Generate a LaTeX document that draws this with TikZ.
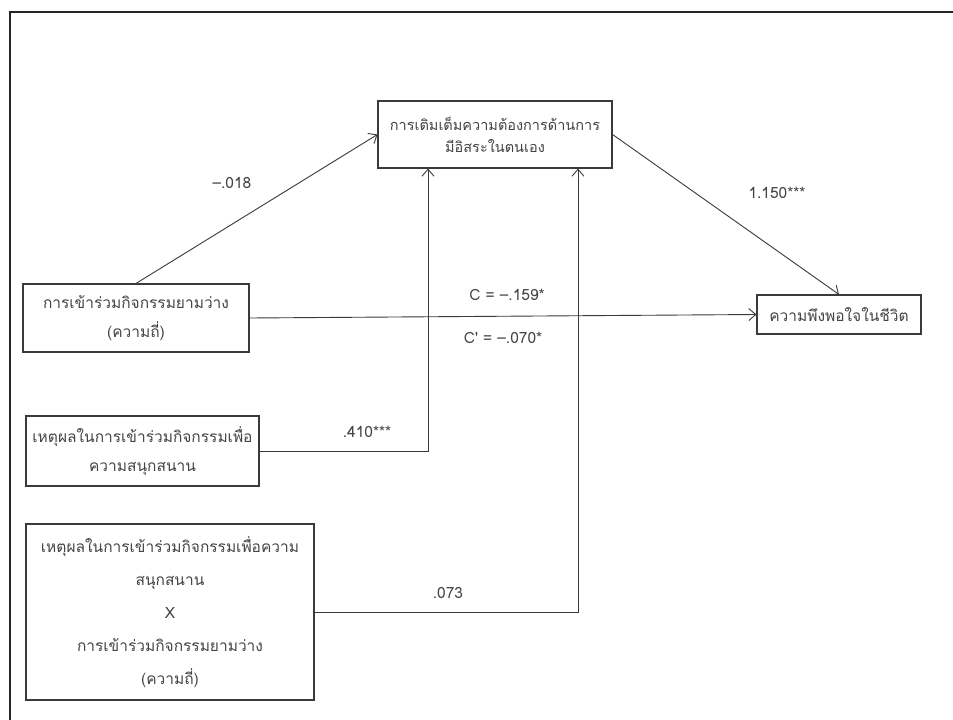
\documentclass[tikz,border=0pt]{standalone}
\usepackage{fontspec}
\newfontfamily\thaifont[Script=Thai]{Loma}
\usetikzlibrary{arrows.meta}
\definecolor{ink}{HTML}{3A3A3A}
\definecolor{txt}{HTML}{444444}
\tikzset{
  box/.style={draw=ink, line width=1.1pt, fill=white, inner sep=2pt, align=center, text=txt,
    font=\thaifont\fontsize{15.5}{29}\selectfont},
  link/.style={draw=ink, line width=0.9pt, -{Straight Barb[length=7pt,width=12pt]}},
  lab/.style={text=txt, font=\thaifont\fontsize{15.5}{17}\selectfont, inner sep=0pt}
}
\begin{document}
\begin{tikzpicture}[x=1pt,y=-1pt]
\useasboundingbox (0,0) rectangle (953,720);
\fill[white] (0,0) rectangle (953,720);
% outer frame
\draw[black!85, line width=2.2pt] (10,720) -- (10,12) -- (953,12);
% nodes
\node[box, minimum width=234pt, minimum height=67pt, font=\thaifont\fontsize{14.5}{22}\selectfont] (M) at (495,134.5)
  {การเติมเต็มความต้องการด้านการ\\มีอิสระในตนเอง};
\node[box, minimum width=226pt, minimum height=68pt] (X) at (136,318)
  {การเข้าร่วมกิจกรรมยามว่าง\\(ความถี่)};
\node[box, minimum width=164pt, minimum height=39pt] (Y) at (839,314.5)
  {ความพึงพอใจในชีวิต};
\node[box, minimum width=233pt, minimum height=70pt] (W) at (142.5,451)
  {เหตุผลในการเข้าร่วมกิจกรรมเพื่อ\\ความสนุกสนาน};
\node[box, minimum width=288pt, minimum height=176pt, font=\thaifont\fontsize{15.5}{33}\selectfont] (XW) at (170,612)
  {เหตุผลในการเข้าร่วมกิจกรรมเพื่อความ\\สนุกสนาน\\X\\การเข้าร่วมกิจกรรมยามว่าง\\(ความถี่)};
% helper coordinates on the bottom edge of M
\coordinate (Mw) at ([xshift=-67pt]M.south);
\coordinate (Mxw) at ([xshift=83pt]M.south);
% connectors
\draw[link] (X.north) -- (M.west);
\draw[link] (M.east) -- (Y.north);
\draw[link] (X.east) -- (Y.west);
\draw[link] (W.east) -| (Mw);
\draw[link] (XW.east) -| (Mxw);
% labels
\node[lab] (l1) at (232,183) {–.018};
\node[lab] (l2) at (777,193) {1.150***};
\node[lab] (l3) at (507,295) {C = –.159*};
\node[lab] (l4) at (503,338) {C' = –.070*};
\node[lab] (l5) at (367,432) {.410***};
\node[lab] (l6) at (448,593) {.073};
\end{tikzpicture}
\end{document}
